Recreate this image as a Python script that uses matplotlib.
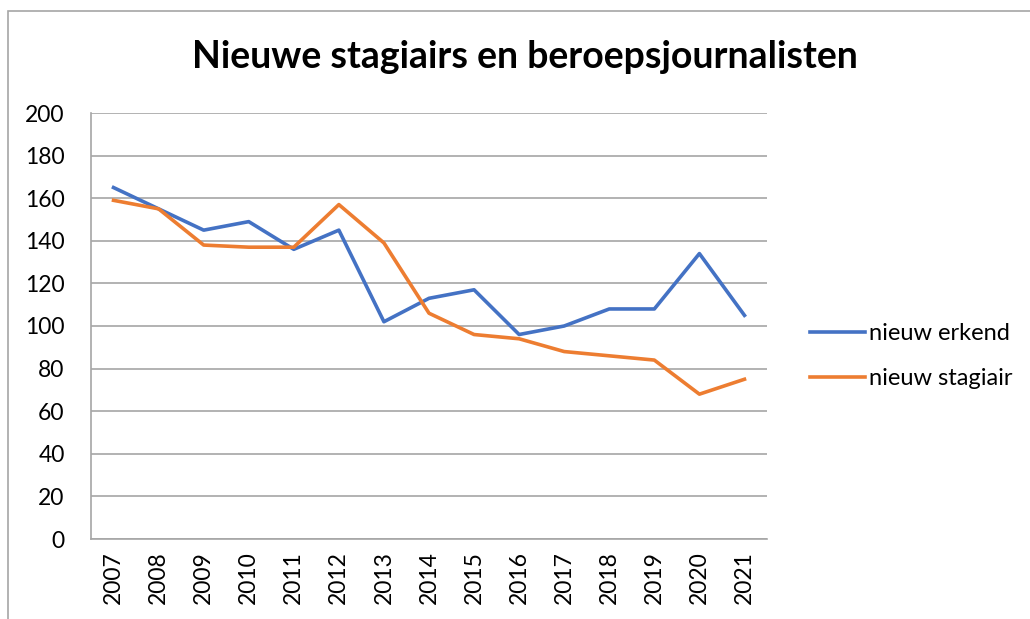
import matplotlib.pyplot as plt
from matplotlib.patches import Rectangle

years = ["2007", "2008", "2009", "2010", "2011", "2012", "2013", "2014",
         "2015", "2016", "2017", "2018", "2019", "2020", "2021"]
nieuw_erkend = [165, 155, 145, 149, 136, 145, 102, 113, 117, 96, 100, 108, 108, 134, 105]
nieuw_stagiair = [159, 155, 138, 137, 137, 157, 139, 106, 96, 94, 88, 86, 84, 68, 75]

plt.rcParams['font.family'] = ['Lato', 'DejaVu Sans']

fig = plt.figure(figsize=(10.3, 6.19), dpi=100)
ax = fig.add_axes([91 / 1030, 80 / 619, 676 / 1030, 426 / 619])

x = list(range(len(years)))
ax.plot(x, nieuw_erkend, color="#4472C4", lw=2.6, label="nieuw erkend", solid_joinstyle="round")
ax.plot(x, nieuw_stagiair, color="#ED7D31", lw=2.6, label="nieuw stagiair", solid_joinstyle="round")

ax.set_xlim(-0.5, len(years) - 0.5)
ax.set_ylim(0, 200)
ax.set_yticks(range(0, 201, 20))
ax.set_xticks(x)
ax.set_xticklabels(years, rotation=90)
ax.tick_params(axis="both", length=0, labelsize=16.5)
ax.tick_params(axis="y", pad=19)
ax.tick_params(axis="x", pad=9)
ax.grid(axis="y", color="#A6A6A6", lw=1.2)
ax.set_axisbelow(True)
for side in ["top", "right"]:
    ax.spines[side].set_visible(False)
for side in ["left", "bottom"]:
    ax.spines[side].set_color("#A6A6A6")
    ax.spines[side].set_linewidth(1.2)

fig.text(525 / 1030, 1 - 57 / 619, "Nieuwe stagiairs en beroepsjournalisten",
         ha="center", va="center", fontsize=27, fontweight="bold")

ax.legend(loc="center left", bbox_to_anchor=(789 / 1030, 1 - 356 / 619),
          bbox_transform=fig.transFigure, frameon=False, fontsize=17,
          handlelength=2.3, handletextpad=0.2, labelspacing=1.0)

fig.add_artist(Rectangle((8 / 1030, -0.1), 1.2, 0.1 + 1 - 11 / 619,
                         transform=fig.transFigure, fill=False,
                         edgecolor="#A6A6A6", lw=1.2))

fig.savefig("out.png", dpi=100)
